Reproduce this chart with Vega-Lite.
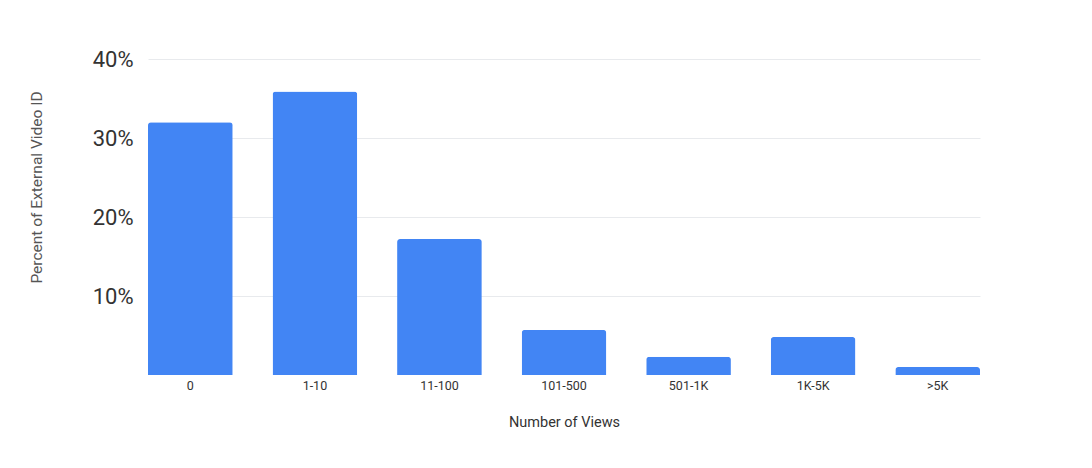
{
  "$schema": "https://vega.github.io/schema/vega-lite/v6.json",
  "autosize": "none",
  "width": 832,
  "height": 316,
  "padding": {"left": 148, "top": 59, "right": 112, "bottom": 93},
  "background": "white",
  "data": {
    "values": [
      {"views": "0", "pct": 0.320},
      {"views": "1-10", "pct": 0.359},
      {"views": "11-100", "pct": 0.172},
      {"views": "101-500", "pct": 0.057},
      {"views": "501-1K", "pct": 0.023},
      {"views": "1K-5K", "pct": 0.048},
      {"views": ">5K", "pct": 0.010}
    ]
  },
  "config": {
    "font": "Roboto",
    "view": {"stroke": null}
  },
  "mark": {"type": "bar", "color": "#4285F4", "cornerRadiusTopLeft": 3, "cornerRadiusTopRight": 3},
  "encoding": {
    "x": {
      "field": "views",
      "type": "nominal",
      "sort": null,
      "scale": {"paddingInner": 0.32, "paddingOuter": 0},
      "axis": {
        "title": "Number of Views",
        "labelAngle": 0,
        "labelFontSize": 12.5,
        "labelColor": "#333333",
        "labelPadding": 4,
        "ticks": false,
        "domain": false,
        "titleFontSize": 14.5,
        "titleFontWeight": "normal",
        "titleColor": "#333333",
        "titleY": 47,
        "titleBaseline": "middle"
      }
    },
    "y": {
      "field": "pct",
      "type": "quantitative",
      "scale": {"domain": [0, 0.4], "nice": false},
      "axis": {
        "title": "Percent of External Video ID",
        "values": [0.1, 0.2, 0.3, 0.4],
        "format": ".0%",
        "labelFontSize": 22,
        "labelColor": "#333333",
        "labelPadding": 15,
        "ticks": false,
        "domain": false,
        "gridColor": "#E8EAED",
        "gridWidth": 1,
        "titleFontSize": 15.5,
        "titleFontWeight": "normal",
        "titleColor": "#555555",
        "titleX": -112,
        "titleY": 128,
        "titleAlign": "center",
        "titleBaseline": "middle",
        "titleAngle": -90
      }
    }
  }
}
